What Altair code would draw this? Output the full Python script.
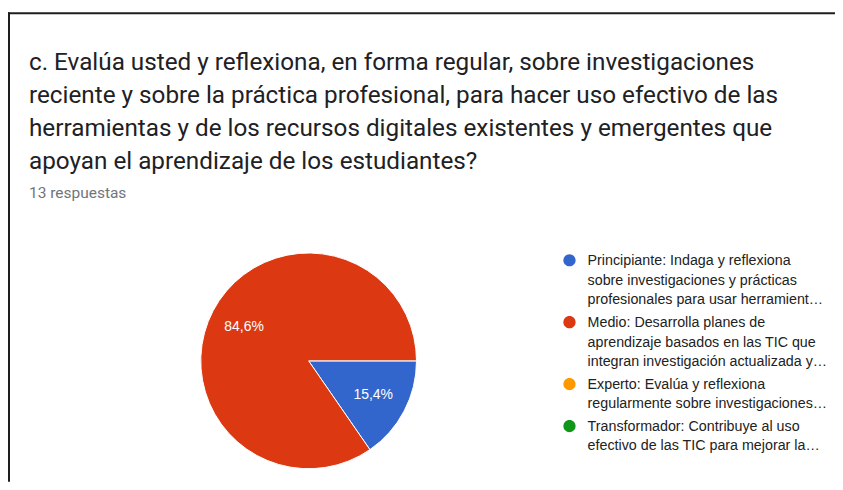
import math
import altair as alt
import pandas as pd

# ---- data ----
categorias = [
    "Principiante: Indaga y reflexiona|sobre investigaciones y prácticas|profesionales para usar herramient…",
    "Medio: Desarrolla planes de|aprendizaje basados en las TIC que|integran investigación actualizada y…",
    "Experto: Evalúa y reflexiona|regularmente sobre investigaciones…",
    "Transformador: Contribuye al uso|efectivo de las TIC para mejorar la…",
]
respuestas = [2, 11, 0, 0]
orden = [0, 1, 2, 3]
colores = ["#3366CC", "#DC3912", "#FF9900", "#109618"]

titulo = [
    "c. Evalúa usted y reflexiona, en forma regular, sobre investigaciones",
    "reciente y sobre la práctica profesional, para hacer uso efectivo de las",
    "herramientas y de los recursos digitales existentes y emergentes que",
    "apoyan el aprendizaje de los estudiantes?",
]
subtitulo = "13 respuestas"

df = pd.DataFrame({"categoria": categorias, "respuestas": respuestas, "orden": orden})

base = (
    alt.Chart(df)
    .transform_filter("datum.respuestas > 0")
    .transform_joinaggregate(total="sum(respuestas)")
    .transform_calculate(
        pct="replace(format(100 * datum.respuestas / datum.total, '.1f'), '.', ',') + '%'"
    )
)

theta = alt.Theta(
    "respuestas:Q",
    stack=True,
    scale=alt.Scale(range=[math.pi / 2, math.pi / 2 + 2 * math.pi]),
)
color = alt.Color(
    "categoria:N",
    scale=alt.Scale(domain=categorias, range=colores),
    legend=alt.Legend(
        orient="none",
        legendX=554,
        legendY=234,
        title=None,
        padding=0,
        labelExpr="split(datum.label, '|')",
        labelFont="Liberation Sans",
        labelFontSize=14.3,
        labelColor="#222222",
        labelLimit=500,
        labelBaseline="top",
        labelOffset=11,
        symbolType="M -1 1 A 1 1 0 1 0 1 1 A 1 1 0 1 0 -1 1 Z",
        symbolSize=150,
        symbolStrokeWidth=0,
        rowPadding=1,
    ),
)
orden_enc = alt.Order("orden:Q")

W, H = 827, 469
cx, cy = 300, 348

pie = base.mark_arc(radius=108, stroke="white", strokeWidth=1).encode(
    theta=theta, color=color, order=orden_enc, x=alt.value(cx), y=alt.value(cy)
)

etiquetas = base.mark_text(
    radius=73, font="Liberation Sans", fontSize=14, color="white"
).encode(
    theta=theta,
    detail="categoria:N",
    order=orden_enc,
    text="pct:N",
    x=alt.value(cx),
    y=alt.value(cy),
)

# frame of the original screenshot (top and left edges)
marco_data = alt.Data(values=[{"m": 1}])
borde_sup = (
    alt.Chart(marco_data)
    .mark_rect(color="#1e1e1e")
    .encode(x=alt.value(-1), x2=alt.value(W), y=alt.value(-1), y2=alt.value(1))
)
borde_izq = (
    alt.Chart(marco_data)
    .mark_rect(color="#1e1e1e")
    .encode(x=alt.value(-1), x2=alt.value(1), y=alt.value(-1), y2=alt.value(H))
)

chart = (
    alt.layer(borde_sup, borde_izq, pie, etiquetas)
    .properties(
        width=W,
        height=H,
        padding={"left": 1, "top": 5, "right": 0, "bottom": 0},
        autosize=alt.AutoSizeParams(type="none"),
        title=alt.Title(
            text=titulo,
            subtitle=subtitulo,
            anchor="start",
            frame="group",
            orient="top",
            offset=-189,
            dx=20,
            font="Roboto",
            fontSize=24.3,
            fontWeight="normal",
            color="#202124",
            lineHeight=33,
            subtitleFont="Roboto",
            subtitleFontSize=15.5,
            subtitleColor="#70757a",
            subtitlePadding=11,
        ),
    )
    .configure(style={"guide-label": {"lineHeight": 19.5}})
    .configure_view(stroke="transparent", strokeWidth=0)
)

chart.save("out.html", embed_options={"renderer": "svg", "actions": False})
